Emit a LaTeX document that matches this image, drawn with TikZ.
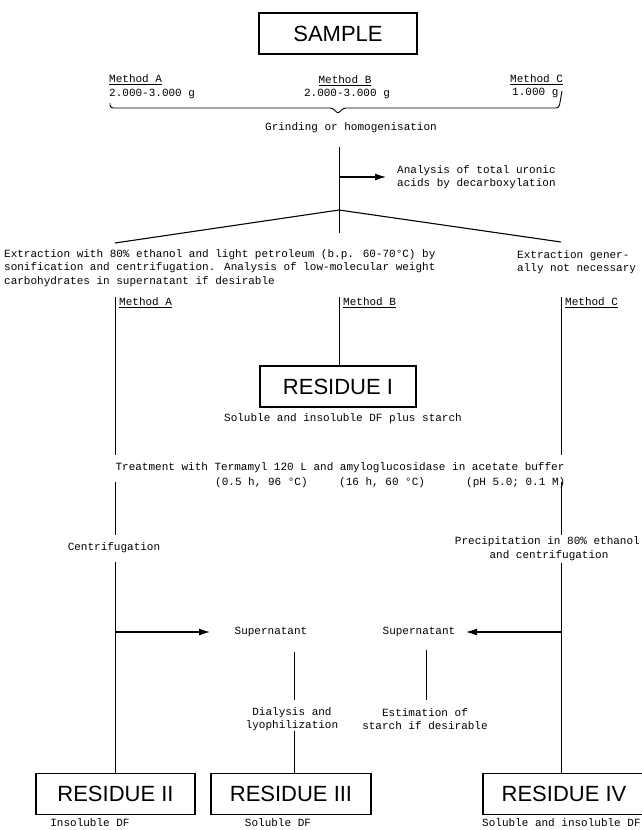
\documentclass[tikz,border=0pt]{standalone}
\usepackage{fontspec}
\newfontfamily\monofont{Liberation Mono}
\newfontfamily\boxfont{Liberation Sans}
\usetikzlibrary{arrows.meta}
\begin{document}
\begin{tikzpicture}[x=1pt,y=-1pt,
  txt/.style={font=\monofont\fontsize{11}{13.5}\selectfont, inner sep=0pt, align=center},
  txtl/.style={txt, align=left},
  bigbox/.style={draw, line width=1.1pt, inner sep=0pt, minimum width=158pt, minimum height=41pt, font=\boxfont\fontsize{22}{22}\selectfont},
  conn/.style={line width=0.7pt},
  branch/.style={line width=1.1pt},
  arr/.style={line width=1.1pt, -{Latex[length=11pt,width=7pt]}}]
\useasboundingbox (0,0) rectangle (641,830);
\fill[white] (0,0) rectangle (641,830);

% top
\node[bigbox, minimum width=158pt] (sample) at (338,33.5) {SAMPLE};
\node[txt, anchor=west] (mA1) at (109,80) {\underline{Method A}};
\node[txt, anchor=west] (gA) at (109,94) {2.000-3.000 g};
\node[txt] (mB1) at (345,81) {\underline{Method B}};
\node[txt] (gB) at (347,94) {2.000-3.000 g};
\node[txt, anchor=west] (mC1) at (510,80) {\underline{Method C}};
\node[txt, anchor=west] (gC) at (512,93) {1.000 g};
\coordinate (brL) at (110,103);
\coordinate (brR) at (562,91);
\coordinate (brTip) at (338,114);
\draw[conn, line width=0.9pt, rounded corners=3pt] (brL) -- (110,108) -- (333,108) -- (brTip) -- (343,108) -- (559,108) -- (brR);
\node[txt] (grind) at (351,128) {Grinding or homogenisation};

% main stem
\coordinate (stemTop) at (339,147);
\coordinate (apex) at (339,210);
\coordinate (stemBot) at (339,233);
\draw[conn] (stemTop) -- (stemBot);
\node[txtl, anchor=west] (uronic) at (397,177) {Analysis of total uronic\\acids by decarboxylation};
\coordinate (arrStart) at (339,177);
\draw[arr] (arrStart) -- (uronic.west -| 386,177);

% branches
\coordinate (brA) at (115,243);
\coordinate (brC) at (561,242);
\draw[branch] (brA) -- (apex) -- (brC);
\node[txtl, anchor=north west] (extA) at (4,249) {Extraction with 80\% ethanol and light petroleum (b.p. 60-70°C) by\\sonification and centrifugation. Analysis of low-molecular weight\\carbohydrates in supernatant if desirable};
\node[txtl, anchor=north west] (extC) at (517,250) {Extraction gener-\\ally not necessary};

% method lines
\coordinate (lA1) at (115,297);
\coordinate (lB1) at (339,297);
\coordinate (lC1) at (561,297);
\node[txt, anchor=west] (mA2) at (119,303) {\underline{Method A}};
\node[txt, anchor=west] (mB2) at (343,303) {\underline{Method B}};
\node[txt, anchor=west] (mC2) at (565,303) {\underline{Method C}};

\node[bigbox, minimum width=156pt] (res1) at (338,386.5) {RESIDUE I};
\node[txt] (res1cap) at (343,419) {Soluble and insoluble DF plus starch};
\draw[conn] (lB1) -- (res1.north -| lB1);
\coordinate (lA2) at (115,455);
\coordinate (lC2) at (561,455);
\draw[conn] (lA1) -- (lA2);
\draw[conn] (lC1) -- (lC2);

% treatment
\node[txt] (treat) at (340,468) {Treatment with Termamyl 120 L and amyloglucosidase in acetate buffer};
\node[txt, anchor=west] (t1) at (215,483) {(0.5 h, 96 °C)};
\node[txt, anchor=west] (t2) at (339,483) {(16 h, 60 °C)};
\node[txt, anchor=west] (t3) at (466,483) {(pH 5.0; 0.1 M)};

% method A after treatment
\coordinate (lA3) at (115,482);
\coordinate (lA4) at (115,535);
\draw[conn] (lA3) -- (lA4);
\node[txt] (centA) at (114,548) {Centrifugation};
\coordinate (lA5) at (115,562);
\coordinate (junA) at (115,632);

% method C after treatment
\coordinate (lC3) at (561,482);
\coordinate (lC4) at (561,535);
\draw[conn] (lC3) -- (lC4);
\node[txt, anchor=east] (precip) at (640,542) {Precipitation in 80\% ethanol};
\node[txt] (precip2) at (549,556) {and centrifugation};
\coordinate (lC5) at (561,563);
\coordinate (junC) at (561,632);

% supernatants
\node[txt] (sup1) at (271,632) {Supernatant};
\node[txt] (sup2) at (419,632) {Supernatant};
\draw[arr] (junA) -- (210,632);
\draw[arr] (junC) -- (466,632);

\node[txt] (dial) at (292,719) {Dialysis and\\lyophilization};
\node[txt] (estim) at (425,719) {Estimation of\\starch if desirable};
\draw[conn] (294,652) -- (294,700);
\draw[conn] (426,650) -- (426,700);

% bottom boxes
\node[bigbox, minimum width=159pt] (res2) at (115.5,794) {RESIDUE II};
\node[bigbox, minimum width=160pt] (res3) at (291,794) {RESIDUE III};
\node[bigbox, minimum width=162pt] (res4) at (564,794) {RESIDUE IV};
\draw[conn] (lA5) -- (res2.north -| lA5);
\draw[conn] (lC5) -- (res4.north -| lC5);
\draw[conn] (294,731) -- (res3.north -| 294,731);

\node[txt] (cap2) at (90,823) {Insoluble DF};
\node[txt] (cap3) at (278,823) {Soluble DF};
\node[txt, anchor=west] (cap4) at (482,823) {Soluble and insoluble DF};
\end{tikzpicture}
\end{document}
